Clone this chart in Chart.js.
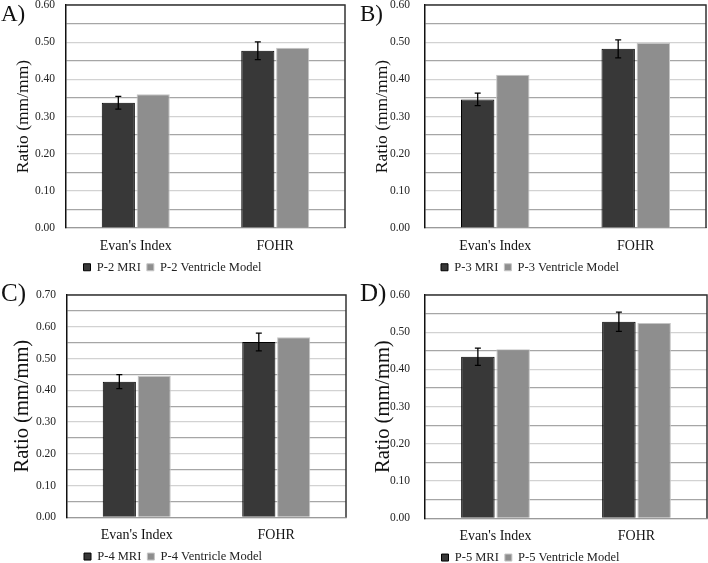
<!DOCTYPE html>
<html>
<head>
<meta charset="utf-8">
<script src="https://cdn.jsdelivr.net/npm/chart.js@4.4.1/dist/chart.umd.min.js"></script>
<style>
  html, body { margin: 0; padding: 0; background: #fff; }
  #page { position: relative; width: 708px; height: 563px; overflow: hidden; }
  .panel { position: absolute; }
  .letter {
    position: absolute;
    font-family: "Liberation Serif", "Times New Roman", serif;
    line-height: 1;
    color: #111;
  }
</style>
</head>
<body>
<div id="page">
  <div class="panel" style="left:0;top:0;width:354px;height:280px"><canvas id="chartA"></canvas></div>
  <div class="panel" style="left:354px;top:0;width:354px;height:280px"><canvas id="chartB"></canvas></div>
  <div class="panel" style="left:0;top:280px;width:354px;height:283px"><canvas id="chartC"></canvas></div>
  <div class="panel" style="left:354px;top:280px;width:354px;height:283px"><canvas id="chartD"></canvas></div>
  <div class="letter" style="left:1px;top:2px;font-size:23px">A)</div>
  <div class="letter" style="left:360px;top:2px;font-size:23px">B)</div>
  <div class="letter" style="left:1px;top:280px;font-size:25px">C)</div>
  <div class="letter" style="left:360px;top:280px;font-size:25px">D)</div>
</div>
<script>
// data
const categories = ["Evan's Index", "FOHR"];

const mriP2 = [0.337, 0.477];
const modelP2 = [0.360, 0.485];
const errP2 = [0.017, 0.024];

const mriP3 = [0.346, 0.482];
const modelP3 = [0.412, 0.498];
const errP3 = [0.017, 0.024];

const mriP4 = [0.427, 0.552];
const modelP4 = [0.445, 0.567];
const errP4 = [0.022, 0.028];

const mriP5 = [0.434, 0.528];
const modelP5 = [0.454, 0.525];
const errP5 = [0.023, 0.026];

const yMaxes = [0.6, 0.6, 0.7, 0.6];
const yStep = 0.05;

const serif = '"Liberation Serif", "Times New Roman", serif';

// error bars on the MRI series
const errorBars = {
    id: 'errorBars',
    afterDatasetsDraw(chart, args, opts) {
        const meta = chart.getDatasetMeta(0);
        const y = chart.scales.y;
        const ctx = chart.ctx;
        const vals = chart.data.datasets[0].data;
        ctx.save();
        ctx.strokeStyle = '#000';
        ctx.lineWidth = 1.3;
        meta.data.forEach((bar, i) => {
            const top = y.getPixelForValue(vals[i] + opts.errors[i]);
            const bot = y.getPixelForValue(vals[i] - opts.errors[i]);
            ctx.beginPath();
            ctx.moveTo(bar.x, top); ctx.lineTo(bar.x, bot);
            ctx.moveTo(bar.x - 3, top); ctx.lineTo(bar.x + 3, top);
            ctx.moveTo(bar.x - 3, bot); ctx.lineTo(bar.x + 3, bot);
            ctx.stroke();
        });
        ctx.restore();
    }
};

// top and right edges of the plot box
const frame = {
    id: 'frame',
    afterDraw(chart) {
        const a = chart.chartArea;
        const ctx = chart.ctx;
        ctx.save();
        ctx.strokeStyle = '#333';
        ctx.lineWidth = 1.5;
        ctx.beginPath();
        ctx.moveTo(a.left, a.top); ctx.lineTo(a.right, a.top); ctx.lineTo(a.right, a.bottom);
        ctx.stroke();
        ctx.restore();
    }
};

function makeChart(id, patient, mri, model, errs, yMax, p) {
    return new Chart(document.getElementById(id), {
        type: 'bar',
        data: {
            labels: categories,
            datasets: [{
                label: patient + ' MRI',
                data: mri,
                backgroundColor: '#383838',
                borderColor: '#000',
                borderWidth: 1,
                categoryPercentage: 0.5,
                barPercentage: 0.95
            }, {
                label: patient + ' Ventricle Model',
                data: model,
                backgroundColor: '#8e8e8e',
                borderColor: '#c4c4c4',
                borderWidth: 1,
                categoryPercentage: 0.5,
                barPercentage: 0.95
            }]
        },
        options: {
            responsive: true,
            maintainAspectRatio: false,
            animation: false,
            layout: { padding: { left: 0, top: p.top, right: p.right, bottom: 0 } },
            plugins: {
                legend: {
                    position: 'bottom',
                    maxHeight: p.legendH,
                    labels: {
                        boxWidth: 7,
                        boxHeight: 7,
                        padding: 6,
                        color: '#222',
                        font: { family: serif, size: 12.5 }
                    }
                },
                tooltip: { enabled: false },
                errorBars: { errors: errs }
            },
            scales: {
                x: {
                    grid: { display: false, drawTicks: false },
                    border: { color: '#9a9a9a', width: 1.2 },
                    ticks: { color: '#111', padding: 10, font: { family: serif, size: 14 } },
                    afterFit: s => { s.height = 27; s.paddingLeft = 0; s.paddingRight = 0; }
                },
                y: {
                    min: 0,
                    max: yMax,
                    grid: {
                        drawTicks: false,
                        color: c => Math.round(c.tick.value * 100) % 10 === 0 ? '#d2d2d2' : '#a6a6a6',
                        lineWidth: 1.2
                    },
                    border: { color: '#111', width: 1.5 },
                    ticks: {
                        stepSize: yStep,
                        autoSkip: false,
                        padding: p.tickPad,
                        color: '#222',
                        font: { family: serif, size: 11.5 },
                        callback: v => Math.round(v * 100) % 10 === 0 ? v.toFixed(2) : ''
                    },
                    title: {
                        display: true,
                        text: 'Ratio (mm/mm)',
                        color: '#111',
                        padding: { top: p.titlePad, bottom: 0 },
                        font: { family: serif, size: p.titleSize }
                    },
                    afterFit: s => { s.width = p.yW; s.paddingTop = 0; s.paddingBottom = 0; }
                }
            }
        },
        plugins: [errorBars, frame]
    });
}

makeChart('chartA', 'P-2', mriP2, modelP2, errP2, yMaxes[0],
    { top: 5, right: 9, legendH: 25, yW: 66, tickPad: 11, titlePad: 13, titleSize: 17.5 });
makeChart('chartB', 'P-3', mriP3, modelP3, errP3, yMaxes[1],
    { top: 5, right: 2, legendH: 25, yW: 71, tickPad: 15, titlePad: 18, titleSize: 17.5 });
makeChart('chartC', 'P-4', mriP4, modelP4, errP4, yMaxes[2],
    { top: 15, right: 8, legendH: 18.7, yW: 67, tickPad: 11, titlePad: 10, titleSize: 20.5 });
makeChart('chartD', 'P-5', mriP5, modelP5, errP5, yMaxes[3],
    { top: 15, right: 1, legendH: 17.7, yW: 71, tickPad: 15, titlePad: 17, titleSize: 20.5 });
</script>
</body>
</html>
